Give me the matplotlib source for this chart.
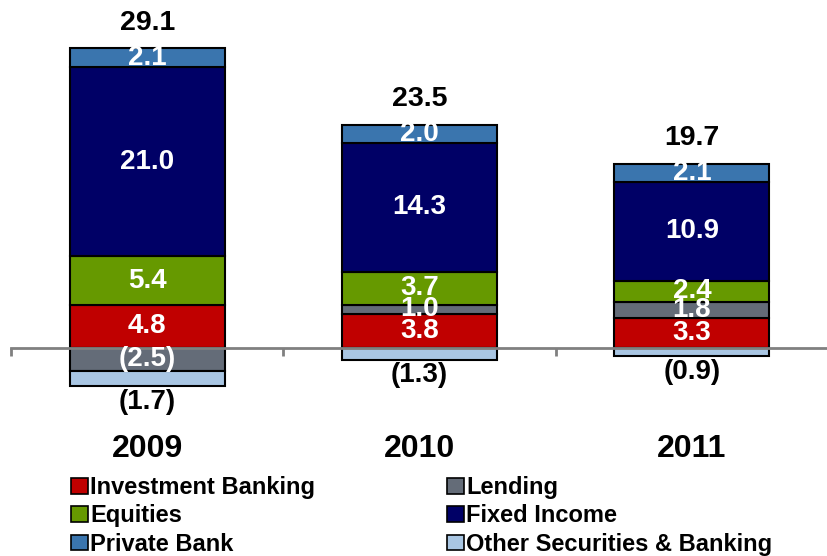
import numpy as np
import matplotlib.pyplot as plt
from matplotlib.patches import Patch

plt.rcParams['font.family'] = ['Liberation Sans', 'DejaVu Sans']
plt.rcParams['font.weight'] = 'bold'

years = ['2009', '2010', '2011']
totals = ['29.1', '23.5', '19.7']
inv_banking = [4.8, 3.8, 3.3]
lending = [-2.5, 1.0, 1.8]
equities = [5.4, 3.7, 2.4]
fixed_income = [21.0, 14.3, 10.9]
private_bank = [2.1, 2.0, 2.1]
other = [-1.7, -1.3, -0.9]

series = [('Investment Banking', inv_banking, '#C00000'),
          ('Lending', lending, '#646C78'),
          ('Equities', equities, '#669900'),
          ('Fixed Income', fixed_income, '#000066'),
          ('Private Bank', private_bank, '#3A75AE'),
          ('Other Securities & Banking', other, '#A9C6E3')]

def fmt(v):
    return '(%.1f)' % abs(v) if v < 0 else '%.1f' % v

fig = plt.figure(figsize=(8.28, 5.56), dpi=100)
ax = fig.add_axes([11/828, 0, 817/828, 1])
ax.set_xlim(-0.5, 2.5)
ax.set_ylim(-(556-348)/9.0, 348/9.0)

x = np.arange(len(years))
width = 0.57
pos_base = np.zeros(3)
neg_base = np.zeros(3)
handles = {}
for name, vals, col in series:
    vals = np.array(vals)
    bottoms = np.where(vals >= 0, pos_base, neg_base)
    bars = ax.bar(x, vals, width, bottom=bottoms, color=col,
                  edgecolor='black', linewidth=1.5, zorder=2)
    handles[name] = Patch(facecolor=col, edgecolor='black', linewidth=1.2)
    for i, v in enumerate(vals):
        if name == 'Other Securities & Banking':
            ax.annotate(fmt(v), (x[i], bottoms[i] + v), xytext=(0, -2),
                        textcoords='offset points', ha='center', va='top',
                        fontsize=20, color='black')
        else:
            ax.text(x[i], bottoms[i] + v / 2, fmt(v), ha='center',
                    va='center', fontsize=20, color='white', zorder=4)
    pos_base = pos_base + np.where(vals >= 0, vals, 0)
    neg_base = neg_base + np.where(vals < 0, vals, 0)

for i, t in enumerate(totals):
    ax.annotate(t, (x[i], pos_base[i]), xytext=(0, 9),
                textcoords='offset points', ha='center', va='bottom',
                fontsize=20.5, color='black')

for s in ['left', 'right', 'top']:
    ax.spines[s].set_visible(False)
ax.spines['bottom'].set_position(('data', 0))
ax.spines['bottom'].set_color('#808080')
ax.spines['bottom'].set_linewidth(2)
ax.spines['bottom'].set_zorder(3)
ax.set_yticks([])
ax.set_xticks([-0.5, 0.5, 1.5, 2.5])
ax.tick_params(axis='x', direction='out', length=6, width=2,
               color='#808080', labelbottom=False)

for i, yr in enumerate(years):
    ax.text(x[i], -11.2, yr, ha='center', va='center', fontsize=23)

order = ['Investment Banking', 'Equities', 'Private Bank',
         'Lending', 'Fixed Income', 'Other Securities & Banking']
fig.legend([handles[n] for n in order], order, ncol=2, frameon=False,
           loc='upper left', bbox_to_anchor=(71/828, 1 - 476/556),
           fontsize=17, handlelength=0.7, handleheight=0.65,
           handletextpad=0.1, columnspacing=5.6, labelspacing=0.23,
           borderpad=0, borderaxespad=0)

fig.savefig('out.png', dpi=100)
